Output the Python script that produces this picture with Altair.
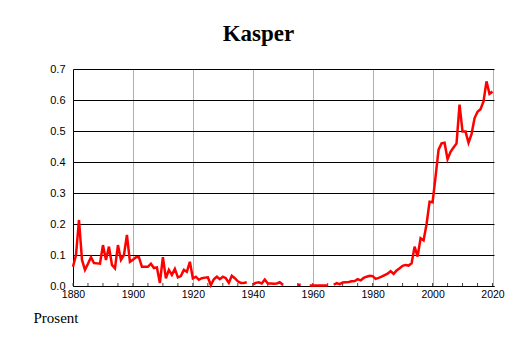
import altair as alt
import pandas as pd

years = list(range(1880, 2021))
values = [
    # 1880-1889
    0.062, 0.10, 0.213, 0.084, 0.052, 0.072, 0.093, 0.074, 0.073, 0.072,
    # 1890-1899
    0.132, 0.084, 0.127, 0.068, 0.057, 0.132, 0.084, 0.10, 0.165, 0.078,
    # 1900-1909
    0.085, 0.093, 0.093, 0.062, 0.062, 0.062, 0.072, 0.058, 0.060, 0.010,
    # 1910-1919
    0.093, 0.025, 0.052, 0.036, 0.055, 0.028, 0.032, 0.052, 0.046, 0.078,
    # 1920-1929
    0.025, 0.030, 0.020, 0.025, 0.027, 0.028, 0.003, 0.022, 0.030, 0.022,
    # 1930-1939
    0.030, 0.025, 0.010, 0.033, 0.025, 0.015, 0.010, 0.010, 0.012, None,
    # 1940-1949
    0.005, 0.010, 0.012, 0.008, 0.021, 0.008, 0.008, 0.007, 0.008, 0.012,
    # 1950-1959
    0.004, None, None, None, None, 0.004, 0.004, None, None, 0.002,
    # 1960-1969
    0.002, 0.002, 0.002, 0.002, 0.002, 0.002, None, 0.004, 0.009, 0.006,
    # 1970-1979
    0.011, 0.012, 0.013, 0.015, 0.016, 0.022, 0.018, 0.026, 0.030, 0.033,
    # 1980-1989
    0.032, 0.023, 0.026, 0.030, 0.035, 0.040, 0.048, 0.039, 0.050, 0.057,
    # 1990-1999
    0.065, 0.068, 0.066, 0.073, 0.127, 0.095, 0.154, 0.147, 0.200, 0.272,
    # 2000-2009
    0.270, 0.353, 0.440, 0.460, 0.462, 0.409, 0.433, 0.447, 0.460, 0.585,
    # 2010-2020
    0.498, 0.498, 0.462, 0.490, 0.541, 0.562, 0.570, 0.595, 0.660, 0.620, 0.627,
]
minor_tick_years = list(range(1880, 2021, 5))
label_years = list(range(1880, 2021, 20))
y_ticks = [0.0, 0.1, 0.2, 0.3, 0.4, 0.5, 0.6, 0.7]

df = pd.DataFrame({"year": years, "pct": values})
ticks_df = pd.DataFrame({"year": minor_tick_years})

W, H = 421, 217
xscale = alt.Scale(domain=[1880, 2020.5], nice=False, zero=False)
yscale = alt.Scale(domain=[0, 0.7], nice=False)

x_axis = alt.Axis(
    values=label_years, format="d", title=None, grid=True,
    gridColor="#b0b0b0", gridWidth=1, ticks=False, labelFontSize=10.5,
    labelPadding=3, labelFlush=False, labelOverlap=False,
    domainColor="black", labelFont="Liberation Sans", labelColor="black")

line = alt.Chart(df).mark_line(
    color="#ff0000", strokeWidth=2.5, invalid="break-paths-show-domains"
).encode(
    x=alt.X("year:Q", scale=xscale, axis=x_axis),
    y=alt.Y("pct:Q", scale=yscale, axis=alt.Axis(
        values=y_ticks, format=".1f", title="Prosent", titleAngle=0,
        titleAlign="left", titleBaseline="alphabetic", titleX=-40, titleY=253,
        titleFont="Liberation Serif", titleFontSize=15, titleFontWeight="normal",
        titleColor="black", grid=True, gridColor="black", gridWidth=1,
        ticks=False, labelPadding=8, domainColor="black", labelFontSize=11,
        labelFont="Liberation Sans", labelColor="black")),
)

minor = alt.Chart(ticks_df).mark_rule(color="#444444", strokeWidth=1).encode(
    x=alt.X("year:Q", scale=xscale, axis=x_axis),
    y=alt.value(H),
    y2=alt.value(H - 3),
)

chart = alt.layer(minor, line).properties(
    width=W, height=H,
    title=alt.Title("Kasper", font="Liberation Serif", fontSize=23,
                    fontWeight="bold", color="black", anchor="middle",
                    dx=-25, offset=17),
    padding={"left": 65, "top": 61, "right": 12, "bottom": 49},
    autosize="none",
).configure_view(strokeWidth=0)

chart.save("out.html", embed_options={"renderer": "svg", "actions": False})
